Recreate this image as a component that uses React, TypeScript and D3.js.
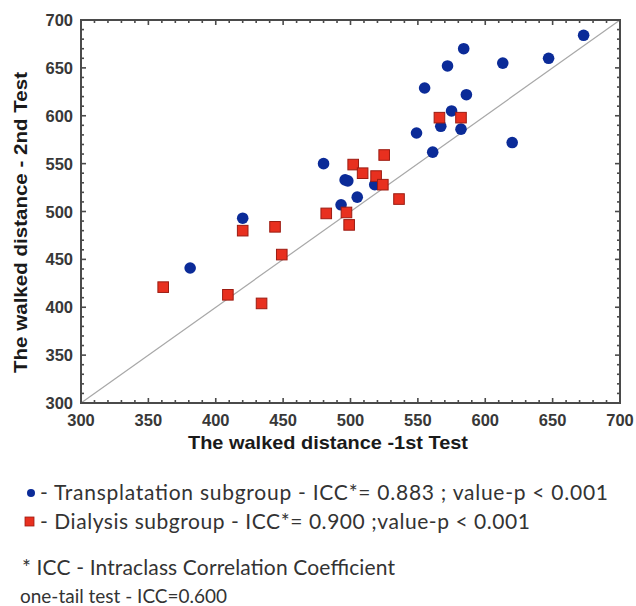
import React from "react";
import * as d3 from "d3";

// Transplantation subgroup (blue circles): 1st test, 2nd test
const transplant1st = [673, 584, 572, 613, 647, 555, 586, 575, 567, 582, 549, 620, 561, 480, 496, 498, 518, 505, 493, 420, 381];
const transplant2nd = [684, 670, 652, 655, 660, 629, 622, 605, 589, 586, 582, 572, 562, 550, 533, 532, 528, 515, 507, 493, 441];

// Dialysis subgroup (red squares): 1st test, 2nd test
const dialysis1st = [566, 582, 525, 502, 509, 519, 524, 536, 482, 497, 499, 420, 444, 449, 361, 409, 434];
const dialysis2nd = [598, 598, 559, 549, 540, 537, 528, 513, 498, 499, 486, 480, 484, 455, 421, 413, 404];

const xTicks = [300, 350, 400, 450, 500, 550, 600, 650, 700];
const yTicks = [300, 350, 400, 450, 500, 550, 600, 650, 700];
const minorTicks = d3.range(300, 701, 10);

const xTitle = "The walked distance -1st Test";
const yTitle = "The walked distance - 2nd Test";
const legendLines = [
  "- Transplatation subgroup - ICC*= 0.883 ; value-p < 0.001",
  "- Dialysis subgroup - ICC*= 0.900 ;value-p < 0.001",
];
const noteLines = ["* ICC - Intraclass Correlation Coefficient", "one-tail test - ICC=0.600"];

const W = 636;
const H = 606;
const L = 81, R = 620, T = 20, B = 403;

export default function App() {
  const x = d3.scaleLinear().domain([300, 700]).range([L, R]);
  const y = d3.scaleLinear().domain([300, 700]).range([B, T]);
  const blue = "#0b2b98";
  const red = "#e8301f";
  const axisColor = "#4a4a4a";
  const tickFont = "'Liberation Sans', Arial, sans-serif";
  const legendFont = "Lato, 'Open Sans', sans-serif";

  const minorLen = 3;
  const majorLen = 5;

  return (
    <svg width={W} height={H} style={{ position: "absolute", left: 0, top: 0, background: "#fff" }}>
      <rect x={0} y={0} width={W} height={H} fill="#fff" />
      {/* diagonal identity line */}
      <line x1={x(300)} y1={y(300)} x2={x(700)} y2={y(700)} stroke="#a8a8a8" strokeWidth={1.2} />

      {/* ticks on all four sides (inward) */}
      {minorTicks.map((v) => {
        const len = v % 50 === 0 ? majorLen : minorLen;
        return (
          <g key={"t" + v} stroke={axisColor} strokeWidth={1.6}>
            <line x1={x(v)} x2={x(v)} y1={B} y2={B - len} />
            <line x1={x(v)} x2={x(v)} y1={T} y2={T + len} />
            <line y1={y(v)} y2={y(v)} x1={L} x2={L + len} />
            <line y1={y(v)} y2={y(v)} x1={R} x2={R - len} />
          </g>
        );
      })}

      {/* frame */}
      <rect x={L} y={T} width={R - L} height={B - T} fill="none" stroke={axisColor} strokeWidth={2} />

      {/* points */}
      {transplant1st.map((v, i) => (
        <circle key={"b" + i} cx={x(v)} cy={y(transplant2nd[i])} r={5.8} fill={blue} />
      ))}
      {dialysis1st.map((v, i) => (
        <rect
          key={"r" + i}
          x={x(v) - 5.3}
          y={y(dialysis2nd[i]) - 5.3}
          width={10.6}
          height={10.6}
          fill={red}
          stroke="#9c1c12"
          strokeWidth={1}
        />
      ))}

      {/* tick labels */}
      {xTicks.map((v) => (
        <text key={"xl" + v} x={x(v)} y={426} textAnchor="middle" fontFamily={tickFont} fontWeight="bold" fontSize={16.5} fill="#383838">
          {v}
        </text>
      ))}
      {yTicks.map((v) => (
        <text key={"yl" + v} x={73} y={y(v) + 6} textAnchor="end" fontFamily={tickFont} fontWeight="bold" fontSize={16.5} fill="#383838">
          {v}
        </text>
      ))}

      {/* axis titles */}
      <text x={188} y={449} fontFamily={tickFont} fontWeight="bold" fontSize={19} fill="#1a1a1a" textLength={280} lengthAdjust="spacingAndGlyphs">
        {xTitle}
      </text>
      <text
        transform={`translate(27, 373) rotate(-90)`}
        fontFamily={tickFont}
        fontWeight="bold"
        fontSize={19}
        fill="#1a1a1a"
        textLength={301}
        lengthAdjust="spacingAndGlyphs"
      >
        {yTitle}
      </text>

      {/* legend */}
      <circle cx={31} cy={493} r={4} fill={blue} />
      <text x={40} y={500} fontFamily={legendFont} fontSize={21} fill="#333" textLength={568} lengthAdjust="spacing">
        {legendLines[0]}
      </text>
      <rect x={25} y={517} width={9} height={9} fill={red} stroke="#9c1c12" strokeWidth={0.8} />
      <text x={40} y={529} fontFamily={legendFont} fontSize={21} fill="#333" textLength={490} lengthAdjust="spacing">
        {legendLines[1]}
      </text>
      <text x={22} y={575} fontFamily={legendFont} fontSize={21} fill="#333" textLength={373} lengthAdjust="spacing">
        {noteLines[0]}
      </text>
      <text x={20} y={603} fontFamily={legendFont} fontSize={19.5} fill="#333" textLength={207} lengthAdjust="spacingAndGlyphs">
        {noteLines[1]}
      </text>
    </svg>
  );
}
